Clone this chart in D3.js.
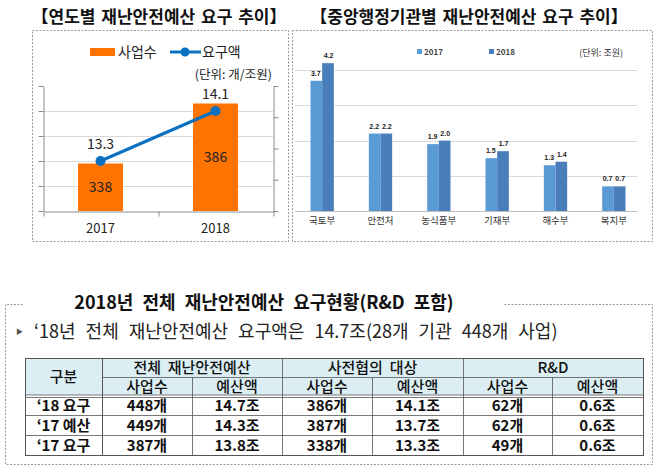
<!DOCTYPE html>
<html>
<head>
<meta charset="utf-8">
<script src="https://cdn.jsdelivr.net/npm/d3@7"></script>
<style>
  body { margin: 0; background: #fff; }
  svg { display: block; font-family: "Noto Sans CJK KR", "Noto Sans", sans-serif; }
  .axis path, .axis line { stroke: #8c8c8c; }
</style>
</head>
<body>
<div id="vis"></div>
<script>
"use strict";
const [width, height] = [658, 468];

// left chart: by year
const years = ["2017", "2018"];
const projectCounts = [338, 386];      // 사업수 (bars)
const requestAmounts = [13.3, 14.1];   // 요구액 (line)
const leftTicks = [300, 320, 340, 360, 380, 400];
const rightTicks = [12.5, 13, 13.5, 14, 14.5];

// right chart: by ministry
const ministries = ["국토부", "안전처", "농식품부", "기재부", "해수부", "복지부"];
const series = ["2017", "2018"];
const values2017 = [3.7, 2.2, 1.9, 1.5, 1.3, 0.7];
const values2018 = [4.2, 2.2, 2.0, 1.7, 1.4, 0.7];
const ministryGrid = [1, 2, 3, 4];

// table
const groupHeads = ["전체  재난안전예산", "사전협의  대상", "R&D"];
const subHeads = ["사업수", "예산액"];
const rowLabels = ["‘18 요구", "‘17 예산", "‘17 요구"];
const tableRows = [
  ["448개", "14.7조", "386개", "14.1조", "62개", "0.6조"],
  ["449개", "14.3조", "387개", "13.7조", "62개", "0.6조"],
  ["387개", "13.8조", "338개", "13.3조", "49개", "0.6조"]
];

const svg = d3.select("#vis").append("svg")
  .attr("width", width).attr("height", height)
  .attr("viewBox", [0, 0, width, height]);

const dash = g => g.attr("fill", "none").attr("stroke", "#9a9a9a")
  .attr("stroke-dasharray", "2,1.5").attr("stroke-width", 1);

// ---------- left chart ----------
svg.append("text").attr("x", 159).attr("y", 23).attr("text-anchor", "middle")
  .attr("font-size", 17).attr("font-weight", "bold").attr("fill", "#111")
  .attr("word-spacing", 2)
  .text("【연도별 재난안전예산 요구 추이】");
svg.append("rect").attr("x", 32.5).attr("y", 30.5).attr("width", 256).attr("height", 211).call(dash);

const xL = d3.scalePoint().domain(years).range([43, 273]).padding(0.5);
const yL = d3.scaleLinear().domain([300, 400]).range([211, 86]);
const yR = d3.scaleLinear().domain([12.5, 14.5]).range([211, 86]);

svg.append("g").selectAll("line").data(leftTicks.slice(1, -1)).join("line")
  .attr("x1", 43).attr("x2", 273).attr("y1", d => yL(d) + 0.5).attr("y2", d => yL(d) + 0.5)
  .attr("stroke", "#d9d9d9");

svg.append("g").attr("class", "axis").attr("transform", "translate(43.5,0)")
  .call(d3.axisLeft(yL).tickValues(leftTicks).tickSize(5).tickFormat("").tickSizeOuter(0));
svg.append("g").attr("class", "axis").attr("transform", "translate(273.5,0)")
  .call(d3.axisRight(yR).tickValues(rightTicks).tickSize(5).tickFormat("").tickSizeOuter(0));
svg.append("g").attr("class", "axis").attr("transform", "translate(0,211.5)")
  .call(d3.axisBottom(d3.scaleLinear().domain([0, 2]).range([43.5, 273.5]))
    .tickValues([0, 1, 2]).tickSize(5).tickFormat("").tickSizeOuter(0));

const barW = 45;
svg.append("g").selectAll("rect").data(years).join("rect")
  .attr("x", d => xL(d) - barW / 2).attr("width", barW)
  .attr("y", (d, i) => yL(projectCounts[i])).attr("height", (d, i) => 211 - yL(projectCounts[i]))
  .attr("fill", "#ff7300");

svg.append("g").selectAll("text").data(years).join("text")
  .attr("x", d => xL(d)).attr("y", (d, i) => (yL(projectCounts[i]) + 211) / 2 + 5)
  .attr("text-anchor", "middle").attr("font-size", 14).attr("fill", "#222")
  .text((d, i) => projectCounts[i]);

const line = d3.line().x(d => xL(d.y)).y(d => yR(d.v));
const pts = years.map((y, i) => ({ y, v: requestAmounts[i] }));
svg.append("path").datum(pts).attr("d", line)
  .attr("fill", "none").attr("stroke", "#0a70c0").attr("stroke-width", 3);
svg.append("g").selectAll("circle").data(pts).join("circle")
  .attr("cx", d => xL(d.y)).attr("cy", d => yR(d.v)).attr("r", 5).attr("fill", "#0a70c0");
svg.append("g").selectAll("text").data(pts).join("text")
  .attr("x", d => xL(d.y)).attr("y", d => yR(d.v) - 12)
  .attr("text-anchor", "middle").attr("font-size", 14).attr("fill", "#222")
  .text(d => d.v.toFixed(1));

svg.append("g").selectAll("text").data(years).join("text")
  .attr("x", d => xL(d)).attr("y", 233).attr("text-anchor", "middle")
  .attr("font-size", 13).attr("fill", "#222").text(d => d);

// legend
svg.append("rect").attr("x", 90).attr("y", 48).attr("width", 25).attr("height", 8).attr("fill", "#ff7300");
svg.append("text").attr("x", 118).attr("y", 57).attr("font-size", 14).attr("fill", "#222").text("사업수");
svg.append("line").attr("x1", 170).attr("x2", 201).attr("y1", 52).attr("y2", 52)
  .attr("stroke", "#0a70c0").attr("stroke-width", 3);
svg.append("circle").attr("cx", 185).attr("cy", 52).attr("r", 4.5).attr("fill", "#0a70c0");
svg.append("text").attr("x", 202).attr("y", 57).attr("font-size", 14).attr("fill", "#222").text("요구액");
svg.append("text").attr("x", 272).attr("y", 79).attr("text-anchor", "end")
  .attr("font-size", 12.5).attr("fill", "#222").text("(단위: 개/조원)");

// ---------- right chart ----------
svg.append("text").attr("x", 469).attr("y", 23).attr("text-anchor", "middle")
  .attr("font-size", 17).attr("font-weight", "bold").attr("fill", "#111")
  .attr("word-spacing", 2)
  .text("【중앙행정기관별 재난안전예산 요구 추이】");
svg.append("rect").attr("x", 292.5).attr("y", 30.5).attr("width", 360).attr("height", 211).call(dash);

const x0 = d3.scaleBand().domain(ministries).range([293, 643]).paddingInner(0.6).paddingOuter(0.3);
const x1 = d3.scaleBand().domain(series).range([0, x0.bandwidth()]);
const y = d3.scaleLinear().domain([0, 5]).range([211, 35]);
const colors = d3.scaleOrdinal().domain(series).range(["#5b9bd5", "#4a7ebb"]);

svg.append("g").selectAll("line").data(ministryGrid).join("line")
  .attr("x1", 295).attr("x2", 637).attr("y1", d => Math.round(y(d)) + 0.5).attr("y2", d => Math.round(y(d)) + 0.5)
  .attr("stroke", "#d9d9d9");
svg.append("line").attr("x1", 295).attr("x2", 637).attr("y1", 211.5).attr("y2", 211.5).attr("stroke", "#bfbfbf");

const cells = ministries.flatMap((m, i) => [
  { m, s: "2017", v: values2017[i] },
  { m, s: "2018", v: values2018[i] }
]);
svg.append("g").selectAll("rect").data(cells).join("rect")
  .attr("x", d => x0(d.m) + x1(d.s)).attr("width", x1.bandwidth())
  .attr("y", d => y(d.v)).attr("height", d => 211 - y(d.v))
  .attr("fill", d => colors(d.s));
svg.append("g").selectAll("text").data(cells).join("text")
  .attr("x", d => x0(d.m) + x1(d.s) + x1.bandwidth() / 2 + (d.s === "2017" ? -0.5 : 0.5))
  .attr("y", d => y(d.v) - 5)
  .attr("text-anchor", "middle").attr("font-size", 7).attr("font-weight", "bold")
  .attr("font-family", "'Liberation Sans', Arial, sans-serif")
  .attr("fill", "#222").text(d => d.v.toFixed(1));
svg.append("g").selectAll("text").data(ministries).join("text")
  .attr("x", d => x0(d) + x0.bandwidth() / 2).attr("y", 224)
  .attr("text-anchor", "middle").attr("font-size", 9.5).attr("fill", "#333").text(d => d);

const legX = d3.scaleOrdinal().domain(series).range([417, 489]);
series.forEach(s => {
  svg.append("rect").attr("x", legX(s)).attr("y", 49).attr("width", 5).attr("height", 5).attr("fill", colors(s));
  svg.append("text").attr("x", legX(s) + 7).attr("y", 55).attr("font-size", 8)
    .attr("font-weight", "bold").attr("fill", "#444").text(s);
});
svg.append("text").attr("x", 623).attr("y", 56).attr("text-anchor", "end")
  .attr("font-size", 9).attr("fill", "#333").text("(단위: 조원)");

// ---------- bottom table ----------
svg.append("path").attr("d", "M23,304.5H5.5V464.5H652.5V304.5H503").call(dash);
svg.append("text").attr("x", 264).attr("y", 309).attr("text-anchor", "middle")
  .attr("font-size", 18).attr("font-weight", "bold").attr("fill", "#111")
  .attr("word-spacing", 5)
  .text("2018년 전체 재난안전예산 요구현황(R&D 포함)");
svg.append("text").attr("x", 16).attr("y", 334).attr("font-size", 7).attr("fill", "#555").text("▶");
svg.append("text").attr("x", 34).attr("y", 338).attr("font-size", 18).attr("fill", "#222")
  .attr("word-spacing", 6)
  .text("‘18년 전체 재난안전예산 요구액은 14.7조(28개 기관 448개 사업)");

const colEdges = [25, 102, 192, 282, 372, 463, 552, 643];
const rowEdges = [358, 377, 395, 415, 435, 455];
const tbl = svg.append("g").attr("font-size", 15).attr("fill", "#111");

tbl.append("rect").attr("x", colEdges[0]).attr("y", rowEdges[0])
  .attr("width", colEdges[7] - colEdges[0]).attr("height", rowEdges[2] - rowEdges[0])
  .attr("fill", "#dbeef4");

const gridStroke = "#555";
// outer border
tbl.append("rect").attr("x", colEdges[0] + 0.5).attr("y", rowEdges[0] + 0.5)
  .attr("width", colEdges[7] - colEdges[0]).attr("height", rowEdges[5] - rowEdges[0])
  .attr("fill", "none").attr("stroke", gridStroke);
// vertical lines
colEdges.slice(1, -1).forEach((cx, i) => {
  const top = (i % 2 === 1) ? rowEdges[1] : rowEdges[0];
  tbl.append("line").attr("x1", cx + 0.5).attr("x2", cx + 0.5).attr("y1", top).attr("y2", rowEdges[5])
    .attr("stroke", gridStroke).attr("stroke-width", i === 0 ? 1 : 0.8);
});
// horizontal lines
tbl.append("line").attr("x1", colEdges[1]).attr("x2", colEdges[7]).attr("y1", rowEdges[1] + 0.5).attr("y2", rowEdges[1] + 0.5)
  .attr("stroke", gridStroke).attr("stroke-width", 0.8);
tbl.append("line").attr("x1", colEdges[0]).attr("x2", colEdges[7]).attr("y1", rowEdges[2]).attr("y2", rowEdges[2])
  .attr("stroke", gridStroke).attr("stroke-width", 0.8);
tbl.append("line").attr("x1", colEdges[0]).attr("x2", colEdges[7]).attr("y1", rowEdges[2] + 2.5).attr("y2", rowEdges[2] + 2.5)
  .attr("stroke", gridStroke).attr("stroke-width", 0.8);
rowEdges.slice(3, 5).forEach(ry => {
  tbl.append("line").attr("x1", colEdges[0]).attr("x2", colEdges[7]).attr("y1", ry + 0.5).attr("y2", ry + 0.5)
    .attr("stroke", gridStroke).attr("stroke-width", 0.8);
});

const mid = (a, b) => (a + b) / 2;
tbl.append("text").attr("x", mid(colEdges[0], colEdges[1])).attr("y", mid(rowEdges[0], rowEdges[2]) + 5)
  .attr("text-anchor", "middle").attr("font-weight", 500).text("구분");
groupHeads.forEach((g, i) => {
  tbl.append("text").attr("x", mid(colEdges[1 + 2 * i], colEdges[3 + 2 * i])).attr("y", rowEdges[1] - 4)
    .attr("text-anchor", "middle").attr("font-weight", 500).attr("xml:space", "preserve").text(g);
  subHeads.forEach((s, j) => {
    tbl.append("text").attr("x", mid(colEdges[1 + 2 * i + j], colEdges[2 + 2 * i + j])).attr("y", rowEdges[2] - 3)
      .attr("text-anchor", "middle").attr("font-weight", 500).text(s);
  });
});
rowLabels.forEach((r, i) => {
  const ry = mid(rowEdges[2 + i], rowEdges[3 + i]) + 6;
  tbl.append("text").attr("x", mid(colEdges[0], colEdges[1])).attr("y", ry)
    .attr("text-anchor", "middle").attr("font-weight", "bold").text(r);
  tableRows[i].forEach((v, j) => {
    tbl.append("text").attr("x", mid(colEdges[1 + j], colEdges[2 + j])).attr("y", ry)
      .attr("text-anchor", "middle").attr("font-weight", "bold").text(v);
  });
});
</script>
</body>
</html>
